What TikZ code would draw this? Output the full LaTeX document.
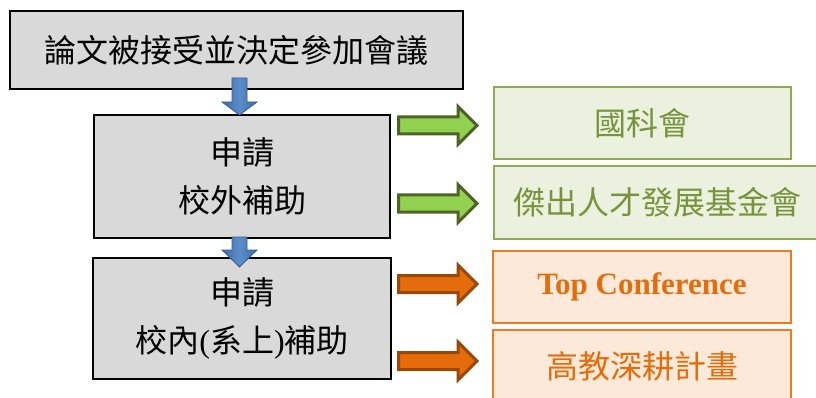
\documentclass[tikz,border=0pt]{standalone}
\usepackage{fontspec}
\setmainfont{Liberation Serif}
\newfontfamily\cjk{Noto Sans CJK TC}
\definecolor{grayfill}{HTML}{D9D9D9}
\definecolor{gfill}{HTML}{EBF1DE}
\definecolor{gline}{HTML}{8EAA55}
\definecolor{gtext}{HTML}{77933C}
\definecolor{ofill}{HTML}{FDE9D9}
\definecolor{oline}{HTML}{EE7A22}
\definecolor{otext}{HTML}{E46C0A}
\definecolor{garrowfill}{HTML}{92D050}
\definecolor{garrowline}{HTML}{4F6228}
\definecolor{oarrowfill}{HTML}{E46C0A}
\definecolor{oarrowline}{HTML}{984807}
\definecolor{barrowfill}{HTML}{3E6DA8}
\definecolor{barrowlight}{HTML}{5B8DCA}
\definecolor{barrowline}{HTML}{385D8A}
\tikzset{
  graybox/.style={draw=black, line width=1.5pt, fill=grayfill, align=center, inner sep=0pt,
    font=\fontsize{32}{48}\selectfont},
  greenbox/.style={draw=gline, line width=1.4pt, fill=gfill, text=gtext, align=center, inner sep=0pt,
    minimum height=72pt, font=\fontsize{32}{48}\selectfont},
  orangebox/.style={draw=oline, line width=1.4pt, fill=ofill, text=otext, align=center, inner sep=0pt,
    minimum height=72pt, font=\fontsize{31}{48}\selectfont},
  barrow/.style={draw=barrowline, line width=0.8pt, left color=barrowfill, right color=barrowfill,
    middle color=barrowlight},
  garrow/.style={draw=garrowline, fill=garrowfill, line width=3pt},
  oarrow/.style={draw=oarrowline, fill=oarrowfill, line width=3pt},
}
\begin{document}
\begin{tikzpicture}[x=1pt, y=-1pt]
\useasboundingbox (0,0) rectangle (816,398);
\node[graybox, minimum width=453pt, minimum height=78pt] (top) at (236.5,50) {\cjk 論文被接受並決定參加會議};
\node[graybox, minimum width=296pt, minimum height=123pt] (ext) at (242,176.5) {\cjk 申請\\\cjk 校外補助};
\node[graybox, minimum width=298pt, minimum height=121pt] (int) at (242,318.5) {\cjk 申請\\{\cjk 校內}({\cjk 系上}){\cjk 補助}};
% blue down arrows
\path[barrow] (232,78) -- (247,78) -- (247,102) -- (257,102) -- (239.5,115) -- (222,102) -- (232,102) -- cycle;
\path[barrow] (232,237) -- (247,237) -- (247,250) -- (257,250) -- (239.5,267) -- (222,250) -- (232,250) -- cycle;
\node[greenbox, minimum width=297pt] (nsc) at (642.5,123) {\cjk 國科會};
\node[greenbox, minimum width=326pt, minimum height=73pt] (found) at (657,202.5) {\cjk 傑出人才發展基金會};
\node[orangebox, minimum width=298pt] (topc) at (642,287) {\bfseries Top Conference};
\node[orangebox, minimum width=298pt] (hedu) at (642,366) {\fontsize{32}{48}\selectfont\cjk 高教深耕計畫};
% green right arrows
\foreach \yc in {125.5,203.5}{
  \draw[garrow] (398.5,\yc-8.5) -- (458,\yc-8.5) -- (458,\yc-19) -- (477,\yc) -- (458,\yc+19) -- (458,\yc+8.5) -- (398.5,\yc+8.5) -- cycle;
}
% orange right arrows
\foreach \yc in {284,361}{
  \draw[oarrow] (398.5,\yc-8.5) -- (458,\yc-8.5) -- (458,\yc-19) -- (477,\yc) -- (458,\yc+19) -- (458,\yc+8.5) -- (398.5,\yc+8.5) -- cycle;
}
\end{tikzpicture}
\end{document}
